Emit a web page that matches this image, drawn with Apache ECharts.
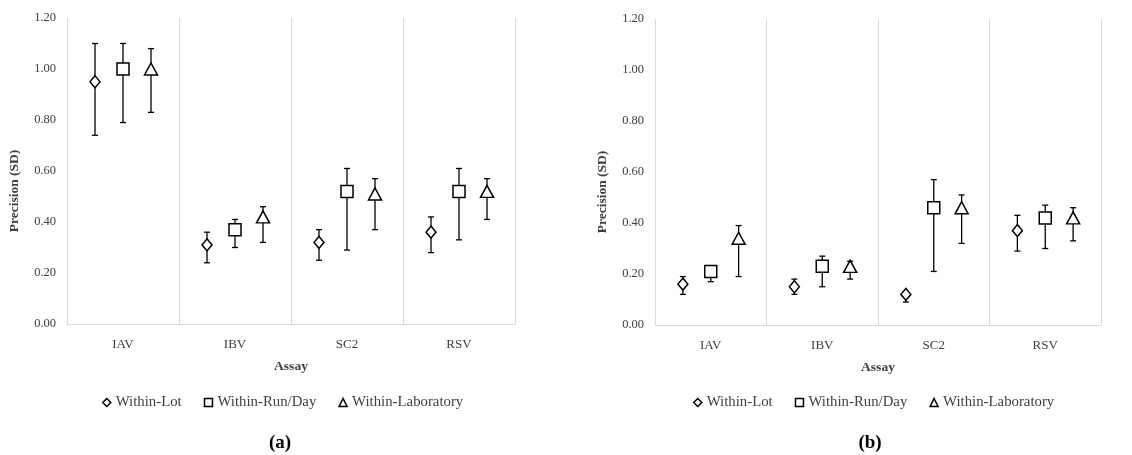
<!DOCTYPE html>
<html>
<head>
<meta charset="utf-8">
<script src="https://cdn.jsdelivr.net/npm/echarts@6/dist/echarts.min.js"></script>
<style>
  html, body { margin: 0; padding: 0; background: #fff; }
  #main { width: 1132px; height: 455px; }
</style>
</head>
<body>
<div id="main"></div>
<script>
// categories and series
const assays = ["IAV", "IBV", "SC2", "RSV"];
const seriesNames = ["Within-Lot", "Within-Run/Day", "Within-Laboratory"];
const symbols = ["diamond", "rect", "triangle"];
const symbolSizes = [[10, 12], 12, [13, 12]];

// y axis ticks: 0.00 .. 1.20 step 0.20
const yMin = 0;
const yMax = 1.2;
const yStep = 0.2;

// panel (a)
const lotA = [0.95, 0.31, 0.32, 0.36];
const lotALow = [0.74, 0.24, 0.25, 0.28];
const lotAHigh = [1.10, 0.36, 0.37, 0.42];
const runA = [1.00, 0.37, 0.52, 0.52];
const runALow = [0.79, 0.30, 0.29, 0.33];
const runAHigh = [1.10, 0.41, 0.61, 0.61];
const labA = [1.00, 0.42, 0.51, 0.52];
const labALow = [0.83, 0.32, 0.37, 0.41];
const labAHigh = [1.08, 0.46, 0.57, 0.57];

// panel (b)
const lotB = [0.16, 0.15, 0.12, 0.37];
const lotBLow = [0.12, 0.12, 0.09, 0.29];
const lotBHigh = [0.19, 0.18, 0.13, 0.43];
const runB = [0.21, 0.23, 0.46, 0.42];
const runBLow = [0.17, 0.15, 0.21, 0.30];
const runBHigh = [0.22, 0.27, 0.57, 0.47];
const labB = [0.34, 0.23, 0.46, 0.42];
const labBLow = [0.19, 0.18, 0.32, 0.33];
const labBHigh = [0.39, 0.25, 0.51, 0.46];

const panels = [
  { mean: [lotA, runA, labA], low: [lotALow, runALow, labALow], high: [lotAHigh, runAHigh, labAHigh] },
  { mean: [lotB, runB, labB], low: [lotBLow, runBLow, labBLow], high: [lotBHigh, runBHigh, labBHigh] },
];

const serif = "'Liberation Serif', 'DejaVu Serif', serif";
const textColor = "#404040";
const gridLine = "#d9d9d9";
const spread = 0.25; // offset of each series inside its category

const chart = echarts.init(document.getElementById("main"));

const xAxes = [];
const yAxes = [];
const series = [];

[0, 1].forEach((g) => {
  // visible category axis (labels + vertical separators)
  xAxes.push({
    type: "category",
    gridIndex: g,
    data: assays,
    boundaryGap: true,
    name: "Assay",
    nameLocation: "middle",
    nameGap: 36,
    nameTextStyle: { fontFamily: serif, fontWeight: "bold", fontSize: 13.5, color: textColor },
    axisLine: { show: true, lineStyle: { color: gridLine, width: 1 } },
    axisTick: { show: false },
    axisLabel: { fontFamily: serif, fontSize: 13, color: textColor, margin: 14 },
    splitLine: { show: true, lineStyle: { color: gridLine, width: 1 } },
  });
  // hidden value axis used to place the marks
  xAxes.push({
    type: "value",
    gridIndex: g,
    min: -0.5,
    max: assays.length - 0.5,
    show: false,
  });
  yAxes.push({
    type: "value",
    gridIndex: g,
    min: yMin,
    max: yMax,
    interval: yStep,
    name: "Precision (SD)",
    nameLocation: "middle",
    nameGap: 45,
    nameTextStyle: {
      fontFamily: serif, fontWeight: "bold", fontSize: 13.5, color: textColor,
      padding: [0, 40, 0, 0],
    },
    axisLine: { show: false },
    axisTick: { show: false },
    splitLine: { show: false },
    axisLabel: {
      fontFamily: serif, fontSize: 12.5, color: textColor, margin: 11,
      formatter: (v) => v.toFixed(2),
    },
  });

  const p = panels[g];
  seriesNames.forEach((name, s) => {
    const off = (s - 1) * spread;
    // error bars
    series.push({
      type: "custom",
      name: name,
      xAxisIndex: g * 2 + 1,
      yAxisIndex: g,
      z: 2,
      silent: true,
      data: assays.map((_, i) => [i + off, p.low[s][i], p.high[s][i]]),
      renderItem: (params, api) => {
        const x = api.value(0);
        const top = api.coord([x, api.value(2)]);
        const bot = api.coord([x, api.value(1)]);
        const cap = 3;
        const style = { stroke: "#000", lineWidth: 1.3 };
        return {
          type: "group",
          children: [
            { type: "line", shape: { x1: top[0], y1: top[1], x2: bot[0], y2: bot[1] }, style },
            { type: "line", shape: { x1: top[0] - cap, y1: top[1], x2: top[0] + cap, y2: top[1] }, style },
            { type: "line", shape: { x1: bot[0] - cap, y1: bot[1], x2: bot[0] + cap, y2: bot[1] }, style },
          ],
        };
      },
    });
    // markers
    series.push({
      type: "scatter",
      name: name,
      xAxisIndex: g * 2 + 1,
      yAxisIndex: g,
      z: 3,
      symbol: symbols[s],
      symbolSize: symbolSizes[s],
      itemStyle: { color: "#fff", borderColor: "#000", borderWidth: 1.5, opacity: 1 },
      data: assays.map((_, i) => [i + off, p.mean[s][i]]),
    });
  });
});

const legendBase = {
  orient: "horizontal",
  top: 390,
  itemWidth: 8,
  itemHeight: 8,
  itemGap: 22,
  selectedMode: false,
  textStyle: { fontFamily: serif, fontSize: 14.8, color: textColor },
  data: seriesNames.map((n, s) => ({
    name: n,
    icon: symbols[s],
    itemStyle: { color: "#fff", borderColor: "#000", borderWidth: 1.5 },
  })),
};

const option = {
  animation: false,
  grid: [
    { left: 67, top: 18, width: 448, height: 306 },
    { left: 655, top: 19, width: 446, height: 306 },
  ],
  xAxis: xAxes,
  yAxis: yAxes,
  legend: [
    Object.assign({}, legendBase, { left: 97 }),
    Object.assign({}, legendBase, { left: 688 }),
  ],
  graphic: [
    { type: "text", x: 280, y: 443, style: { text: "(a)", font: "bold 19px " + serif, fill: "#000", align: "center", verticalAlign: "middle" } },
    { type: "text", x: 870, y: 443, style: { text: "(b)", font: "bold 19px " + serif, fill: "#000", align: "center", verticalAlign: "middle" } },
  ],
  series: series,
};

chart.setOption(option);
</script>
</body>
</html>
